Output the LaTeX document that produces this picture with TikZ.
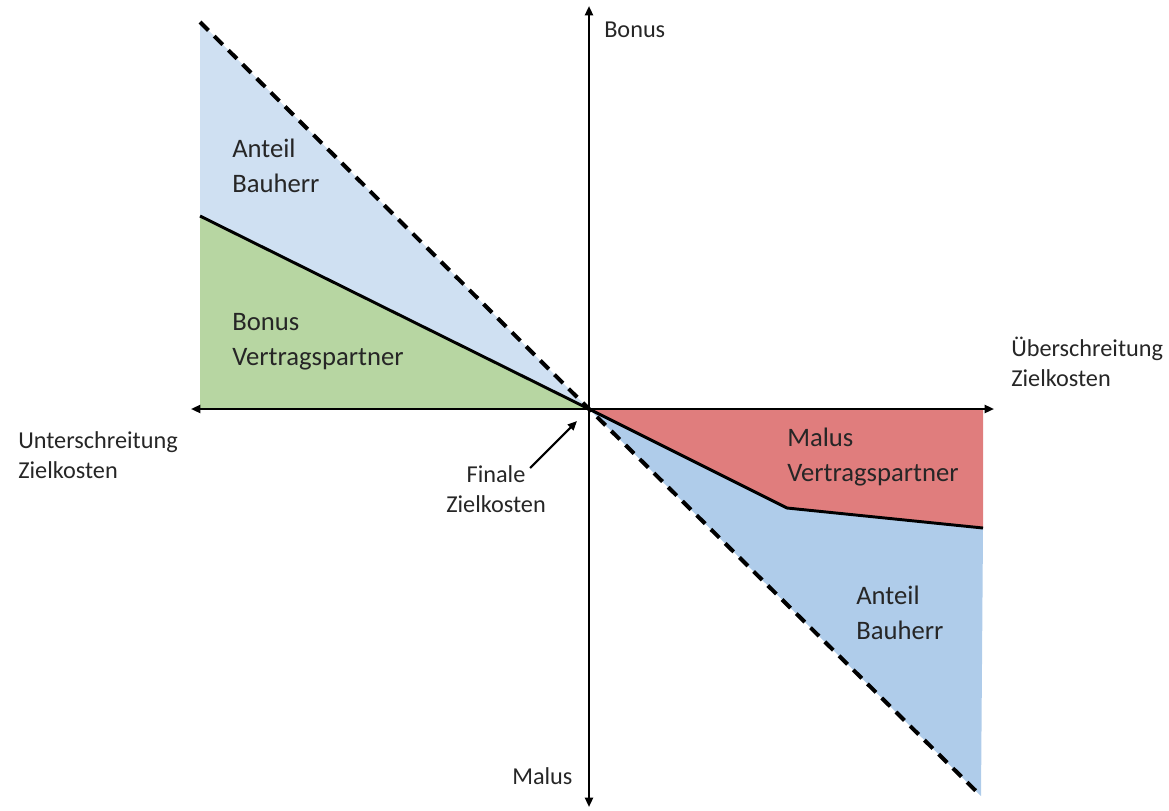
\documentclass[tikz,border=0pt]{standalone}
\usepackage{fontspec}
\setmainfont{Carlito}
\usetikzlibrary{arrows.meta}
\definecolor{lblue}{RGB}{207,224,242}
\definecolor{dblue}{RGB}{175,204,234}
\definecolor{lgreen}{RGB}{183,214,162}
\definecolor{lred}{RGB}{224,125,125}
\definecolor{txt}{RGB}{38,38,38}
\tikzset{
  axis/.style={line width=1.6pt,-{Triangle[length=7pt,width=6pt]}},
  region/.style={font=\fontsize{20}{26}\selectfont, text=txt, align=left, inner sep=0pt, anchor=west},
  axlabel/.style={font=\fontsize{18.2}{22}\selectfont, text=txt, align=left, inner sep=0pt, anchor=west},
  bound/.style={line width=2.2pt, line join=round},
  diag/.style={line width=3pt, dash pattern=on 9pt off 6pt},
}
\begin{document}
\begin{tikzpicture}[x=0.75pt,y=-0.75pt]
\useasboundingbox (0,0) rectangle (1169,810);
\coordinate (O) at (589,409);
\coordinate (TL) at (200,22);
\coordinate (GL) at (200,216);
\coordinate (BL) at (200,409);
\coordinate (RT) at (983,409);
\coordinate (K) at (787,508);
\coordinate (RE) at (983,528);
\coordinate (BR) at (981,796);
\coordinate (xl) at (191,409);
\coordinate (xr) at (994,409);
\coordinate (yt) at (589,6);
\coordinate (yb) at (589,807);
\coordinate (fa) at (530,468);
\coordinate (fb) at (577,421);
% fills
\fill[lblue] (TL) -- (O) -- (GL) -- cycle;
\fill[lgreen] (GL) -- (O) -- (BL) -- cycle;
\fill[lred] (O) -- (RT) -- (RE) -- (K) -- cycle;
\fill[dblue] (O) -- (K) -- (RE) -- (BR) -- cycle;
% boundaries
\draw[bound] (GL) -- (O) -- (K) -- (RE);
\draw[diag] (TL) -- (O) -- (BR);
% axes
\draw[axis] (O) -- (xl);
\draw[axis] (O) -- (xr);
\draw[axis] (O) -- (yt);
\draw[axis] (O) -- (yb);
% labels
\node[axlabel] (bonus) at (604,30) {Bonus};
\node[axlabel] (malus) at (512,776) {Malus};
\node[axlabel] (ueber) at (1011,362) {Überschreitung\\Zielkosten};
\node[axlabel] (unter) at (18,455) {Unterschreitung\\Zielkosten};
\node[axlabel, anchor=center, align=center] (finale) at (496,489) {Finale\\Zielkosten};
\draw[line width=1.6pt,-{Triangle[length=7pt,width=6pt]}] (fa) -- (fb);
\node[region] (ab1) at (232,166) {Anteil\\Bauherr};
\node[region] (bv) at (232,342) {Bonus\\Vertragspartner};
\node[region] (mv) at (787,457) {Malus\\Vertragspartner};
\node[region] (ab2) at (856,613) {Anteil\\Bauherr};
\end{tikzpicture}
\end{document}
